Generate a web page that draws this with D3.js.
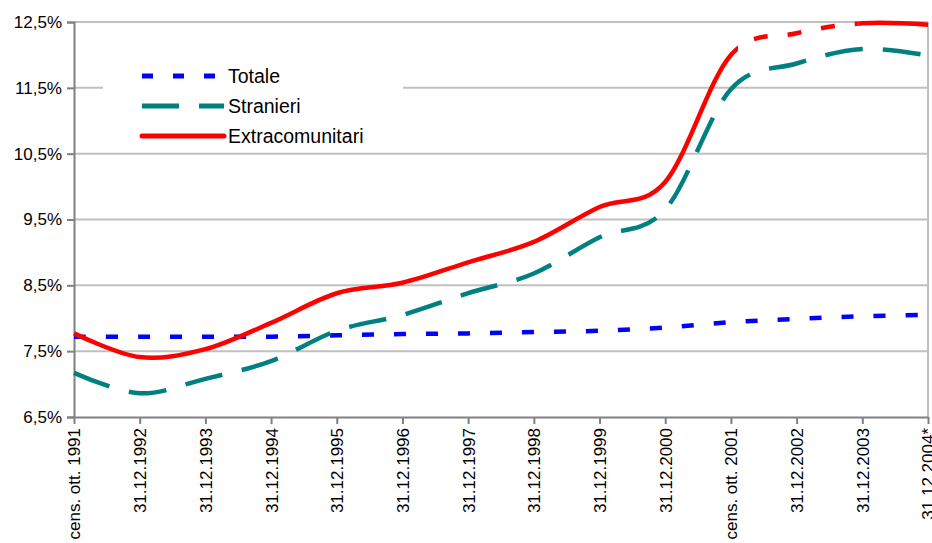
<!DOCTYPE html>
<html>
<head>
<meta charset="utf-8">
<script src="https://cdn.jsdelivr.net/npm/d3@7"></script>
<style>
  html, body { margin: 0; padding: 0; background: #fff; }
  svg { display: block; }
  text { font-family: "Liberation Sans", Arial, sans-serif; fill: #000; }
</style>
</head>
<body>
<svg id="chart" width="932" height="543"></svg>
<script>
const categories = ["cens. ott. 1991", "31.12.1992", "31.12.1993", "31.12.1994", "31.12.1995",
  "31.12.1996", "31.12.1997", "31.12.1998", "31.12.1999", "31.12.2000",
  "cens. ott. 2001", "31.12.2002", "31.12.2003", "31.12.2004*"];
const totale =    [7.72, 7.72, 7.72, 7.72, 7.74, 7.76, 7.77, 7.79, 7.81, 7.86, 7.94, 7.99, 8.03, 8.05];
const stranieri = [7.17, 6.86, 7.08, 7.35, 7.81, 8.05, 8.38, 8.68, 9.23, 9.65, 11.48, 11.87, 12.09, 11.99];
const extracomunitari = [7.77, 7.41, 7.53, 7.93, 8.38, 8.54, 8.85, 9.16, 9.69, 10.07, 12.0, 12.33, 12.48, 12.46];
const yTicks = [6.5, 7.5, 8.5, 9.5, 10.5, 11.5, 12.5];
const seriesNames = ["Totale", "Stranieri", "Extracomunitari"];

(function () {
const svg = d3.select("#chart");
const pL = 74, pR = 928, pT = 22, pB = 417;
const x = d3.scalePoint().domain(categories).range([pL, pR]);
const y = d3.scaleLinear().domain([6.5, 12.5]).range([pB, pT]);
const fmt = v => v.toFixed(1).replace(".", ",") + "%";

// gridlines
svg.append("g").selectAll("line").data(yTicks.filter(v => v > 6.5)).join("line")
  .attr("x1", pL).attr("x2", pR)
  .attr("y1", d => y(d)).attr("y2", d => y(d))
  .attr("stroke", "#c0c0c0").attr("stroke-width", 2);
// right border
svg.append("line").attr("x1", pR).attr("x2", pR).attr("y1", pT).attr("y2", pB)
  .attr("stroke", "#c0c0c0").attr("stroke-width", 2);

// y axis
const yAxis = d3.axisLeft(y).tickValues(yTicks).tickFormat(fmt).tickSize(7).tickPadding(5);
const gy = svg.append("g").attr("transform", `translate(${pL},0)`).call(yAxis);
gy.select(".domain").attr("stroke", "#808080").attr("stroke-width", 2);
gy.selectAll(".tick line").attr("stroke", "#808080").attr("stroke-width", 2);
gy.selectAll(".tick text").attr("font-size", 17).attr("font-family", "Liberation Sans, Arial, sans-serif").attr("fill", "#000");

// x axis
const xAxis = d3.axisBottom(x).tickSize(7).tickSizeOuter(0);
const gx = svg.append("g").attr("transform", `translate(0,${pB})`).call(xAxis);
gx.select(".domain").attr("stroke", "#808080").attr("stroke-width", 2);
gx.selectAll(".tick line").attr("stroke", "#808080").attr("stroke-width", 2);
gx.selectAll(".tick text")
  .attr("font-size", 17).attr("font-family", "Liberation Sans, Arial, sans-serif").attr("fill", "#000")
  .attr("text-anchor", "end")
  .attr("transform", "rotate(-90)")
  .attr("x", -11).attr("y", 0).attr("dy", "0.35em");

// legend background
svg.append("rect").attr("x", 103).attr("y", 56).attr("width", 300).attr("height", 92).attr("fill", "#fff");

const line = d3.line().x((d, i) => x(categories[i])).y(d => y(d)).curve(d3.curveCatmullRom.alpha(0));

// clip regions for red dashed section
const defs = svg.append("defs");
const dx0 = x(categories[10]) + 7, dx1 = x(categories[12]) - 4;
defs.append("clipPath").attr("id", "solidA").append("rect")
  .attr("x", 0).attr("y", 0).attr("width", dx0).attr("height", 543);
defs.append("clipPath").attr("id", "solidB").append("rect")
  .attr("x", dx1).attr("y", 0).attr("width", 932 - dx1).attr("height", 543);
defs.append("clipPath").attr("id", "dashed").append("rect")
  .attr("x", dx0).attr("y", 0).attr("width", dx1 - dx0).attr("height", 543);

svg.append("path").datum(totale).attr("d", line)
  .attr("fill", "none").attr("stroke", "#0000ff").attr("stroke-width", 4.5)
  .attr("stroke-dasharray", "12,20");
svg.append("path").datum(stranieri).attr("d", line)
  .attr("fill", "none").attr("stroke", "#008080").attr("stroke-width", 4.5)
  .attr("stroke-dasharray", "38,20");
["solidA", "solidB"].forEach(c => {
  svg.append("path").datum(extracomunitari).attr("d", line)
    .attr("clip-path", `url(#${c})`)
    .attr("fill", "none").attr("stroke", "#ff0000").attr("stroke-width", 4.5);
});
svg.append("path").datum(extracomunitari).attr("d", line)
  .attr("clip-path", "url(#dashed)")
  .attr("fill", "none").attr("stroke", "#ff0000").attr("stroke-width", 4.5)
  .attr("stroke-dasharray", "14,20").attr("stroke-dashoffset", -1040);

// legend
const legendY = [76, 106, 136];
const legendStyles = [
  { color: "#0000ff", dash: "11,20" },
  { color: "#008080", dash: "37,20" },
  { color: "#ff0000", dash: null }
];
const lg = svg.append("g");
seriesNames.forEach((name, i) => {
  const l = lg.append("line").attr("x1", 142).attr("x2", 224)
    .attr("y1", legendY[i]).attr("y2", legendY[i])
    .attr("stroke", legendStyles[i].color).attr("stroke-width", 5);
  if (legendStyles[i].dash) l.attr("stroke-dasharray", legendStyles[i].dash);
  else l.attr("stroke-linecap", "round");
  lg.append("text").attr("x", 228).attr("y", legendY[i]).attr("dy", "0.35em")
    .attr("font-size", 19.5).text(name);
});
})();
</script>
</body>
</html>
